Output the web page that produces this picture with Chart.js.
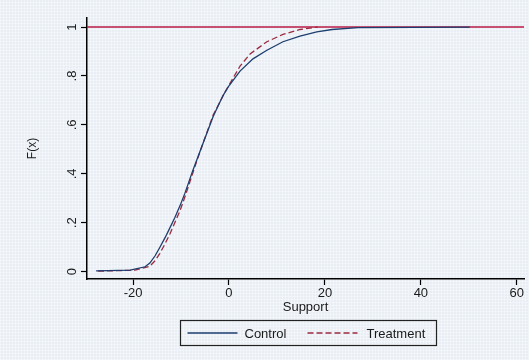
<!DOCTYPE html>
<html>
<head>
<meta charset="utf-8">
<script src="https://cdn.jsdelivr.net/npm/chart.js@4.4.1/dist/chart.umd.min.js"></script>
<style>
html, body { margin: 0; padding: 0; }
body {
  width: 529px; height: 360px;
  background-color: #e9eef5;
  background-image:
    repeating-linear-gradient(0deg, rgba(255,255,255,.35) 0 1px, transparent 1px 3px),
    repeating-linear-gradient(90deg, rgba(255,255,255,.35) 0 1px, transparent 1px 3px);
}
</style>
</head>
<body>
<canvas id="cdf" width="529" height="360"></canvas>
<script>
const controlX = [-27.7, -20.6, -17.5, -16.5, -15.4, -14.4, -13.3, -12.3, -11.3, -10.2, -9.2, -7.5, -5.7, -3.3, -1.25, 0, 2.3, 5, 7.9, 11.25, 14.8, 18.3, 21.5, 26.9, 50.2];
const controlF = [0.003, 0.006, 0.02, 0.035, 0.065, 0.10, 0.14, 0.18, 0.22, 0.27, 0.32, 0.416, 0.51, 0.634, 0.72, 0.76, 0.82, 0.87, 0.905, 0.94, 0.963, 0.98, 0.99, 0.998, 1.0];

const treatX = [-27.3, -19.6, -16.5, -15.4, -14.4, -13.3, -12.3, -11.3, -10.2, -9.2, -8.1, -7.1, -5.6, -3.3, -0.8, 0.8, 2.3, 4.4, 7.9, 11.25, 14.8, 18.5];
const treatF = [0.002, 0.006, 0.022, 0.045, 0.075, 0.115, 0.155, 0.20, 0.25, 0.305, 0.37, 0.43, 0.515, 0.64, 0.735, 0.79, 0.84, 0.89, 0.94, 0.97, 0.99, 1.0];

const xTicks = [-20, 0, 20, 40, 60];
const yTicks = [0, 0.2, 0.4, 0.6, 0.8, 1];
const xRange = [-29.6, 61.5];
const yRange = [-0.03, 1.037];
const refLine = [1, 1];

const font = { family: '"Liberation Sans", Arial, sans-serif', size: 13 };
const ink = '#1a1a1a';

const pairs = (xs, ys) => xs.map((x, i) => ({ x: x, y: ys[i] }));

// Stata style legend with a box around it
const boxedLegend = {
  id: 'boxedLegend',
  afterDraw(chart) {
    const ctx = chart.ctx;
    const area = chart.chartArea;
    const mid = (area.left + area.right) / 2;
    const w = 256, h = 25;
    const left = Math.round(mid - w / 2 + 2) + 0.5;
    const top = Math.round(area.bottom + 41) + 0.5;
    const cy = top + h / 2;
    ctx.save();
    ctx.strokeStyle = '#222';
    ctx.lineWidth = 1.2;
    ctx.strokeRect(left, top, w, h);

    const sets = chart.data.datasets;
    ctx.font = font.size + 'px ' + font.family;
    ctx.fillStyle = ink;
    ctx.textBaseline = 'middle';
    const items = [[sets[0], 7, 64], [sets[1], 127, 186]];
    items.forEach(([ds, lx, tx]) => {
      ctx.beginPath();
      ctx.strokeStyle = ds.borderColor;
      ctx.lineWidth = ds.borderWidth;
      ctx.setLineDash(ds.borderDash || []);
      ctx.moveTo(left + lx, cy);
      ctx.lineTo(left + lx + 50, cy);
      ctx.stroke();
      ctx.setLineDash([]);
      ctx.fillText(ds.label, left + tx, cy + 1);
    });
    ctx.restore();
  }
};

new Chart(document.getElementById('cdf'), {
  type: 'line',
  data: {
    datasets: [
      { label: 'Control', data: pairs(controlX, controlF), borderColor: '#1c3d6e', borderWidth: 1.3, pointRadius: 0, tension: 0, order: 1 },
      { label: 'Treatment', data: pairs(treatX, treatF), borderColor: '#9a2a3e', borderDash: [6, 3], borderWidth: 1.3, pointRadius: 0, tension: 0, order: 2 },
      { label: 'F = 1', data: pairs(xRange, refLine), borderColor: '#b81a44', borderWidth: 1.6, pointRadius: 0, order: 3 }
    ]
  },
  options: {
    responsive: false,
    animation: false,
    layout: { padding: { left: 25, right: 5, top: 18, bottom: 45 } },
    plugins: { legend: { display: false }, tooltip: { enabled: false } },
    scales: {
      x: {
        type: 'linear',
        min: xRange[0], max: xRange[1],
        afterBuildTicks: s => { s.ticks = xTicks.map(v => ({ value: v })); },
        afterFit: s => { s.height = 36; },
        grid: { drawOnChartArea: false, tickLength: 6, tickColor: '#000', tickWidth: 1.2 },
        border: { color: '#000', width: 1.5 },
        ticks: { padding: 1, font: font, color: ink, maxRotation: 0 },
        title: { display: true, text: 'Support', padding: 0, font: font, color: ink }
      },
      y: {
        type: 'linear',
        min: yRange[0], max: yRange[1],
        afterBuildTicks: s => { s.ticks = yTicks.map(v => ({ value: v })); },
        afterFit: s => { s.width = 62; },
        grid: { drawOnChartArea: false, tickLength: 6, tickColor: '#000', tickWidth: 1.2 },
        border: { color: '#000', width: 1.5 },
        ticks: {
          padding: 3, font: font, color: ink,
          minRotation: 90, maxRotation: 90, crossAlign: 'center',
          callback: v => String(v).replace(/^0\./, '.')
        },
        title: { display: true, text: 'F(x)', padding: 0, font: { family: font.family, size: 12 }, color: ink }
      }
    }
  },
  plugins: [boxedLegend]
});
</script>
</body>
</html>
